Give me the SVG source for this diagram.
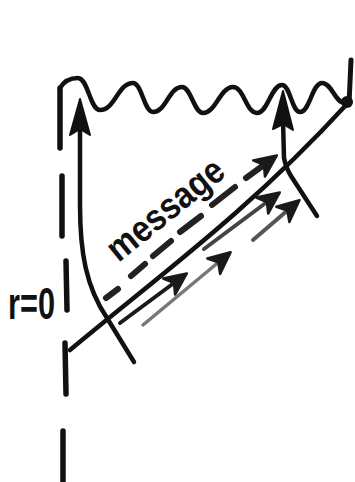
<svg xmlns="http://www.w3.org/2000/svg" width="355" height="482" viewBox="0 0 355 482">
<style>
.ln{fill:none;stroke:#111;stroke-linecap:round;stroke-linejoin:round}
.lbl{font-family:"Liberation Sans",Arial,sans-serif;font-weight:bold;fill:#111}
</style>
<defs>
<marker id="ah" markerUnits="userSpaceOnUse" viewBox="-22 -13 30 26" markerWidth="30" markerHeight="26" refX="0" refY="0" orient="auto">
<path d="M6,0 L-16,-10 L-10,0 L-16,10 Z" fill="#1a1a1a" stroke="#1a1a1a" stroke-width="2.5" stroke-linejoin="round"/>
</marker>
</defs>
<rect width="355" height="482" fill="#fff"/>
<g id="axis">
<path class="ln" style="stroke-width:5.5" d="M60,88 L60,148 M62,176 L62,236 M66,261 L67,310 M65,343 L66,394 M63,431 L63,482"/>
</g>
<g id="boundary">
<path class="ln" style="stroke-width:4.5" d="M60,88 C64,81 70,78 78,78 C88,78 90,110 100,110 C115,110 118,83 133,83 C142,83 144,112 153,112 C166,112 169,87 182,87 C191,87 194,113 203,113 C216,113 220,87 233,87 C244,87 246,113 257,113 C268,113 271,85 282,85 C290,85 292,112 300,112 C310,112 312,83 322,83 C332,83 335,103 345,103"/>
<path class="ln" style="stroke-width:5" d="M351,60 L349,104"/>
<circle cx="347" cy="102" r="6" fill="#111"/>
</g>
<g id="worldline-left">
<path class="ln" style="stroke-width:4.5" d="M80,125 L80,205 C80,252 86,287 107,318 L134,362"/>
<path d="M80,99 L90,135 L80,129 L70,135 Z" fill="#111" stroke="#111" stroke-width="2" stroke-linejoin="round"/>
</g>
<g id="worldline-right">
<path class="ln" style="stroke-width:4.5" d="M283,120 L284,158 Q286,168 291,176 L317,216"/>
<path d="M283,91 L293,130 L283,124 L273,129 Z" fill="#111" stroke="#111" stroke-width="2" stroke-linejoin="round"/>
</g>
<g id="connectors">
<path id="signal" class="ln" style="stroke-width:4.5" d="M70,350 C160,275 250,210 347,104"/>
<g id="message-dashes">
<path class="ln" style="stroke-width:6;stroke:#222" d="M106,298 L118,289 M131,276 L145,264 M153,256 L171,241 M180,232 L201,216 M212,205 L235,187"/>
<path class="ln" style="stroke-width:6;stroke:#222" d="M246,178 L272,159" marker-end="url(#ah)"/>
</g>
<path class="ln" style="stroke-width:4;stroke:#1a1a1a" d="M120,323 L182,277" marker-end="url(#ah)"/>
<path class="ln" style="stroke-width:4;stroke:#444" d="M204,249 L275,196" marker-end="url(#ah)"/>
<path class="ln" style="stroke-width:3.5;stroke:#777" d="M143,325 L226,256" marker-end="url(#ah)"/>
<path class="ln" style="stroke-width:4;stroke:#555" d="M253,240 L295,204" marker-end="url(#ah)"/>
</g>
<g id="labels">
<text class="lbl" x="173" y="219" font-size="37" text-anchor="middle" textLength="140" lengthAdjust="spacingAndGlyphs" transform="rotate(-39 173 219)">message</text>
<text class="lbl" x="8" y="319" font-size="44" textLength="47" lengthAdjust="spacingAndGlyphs">r=0</text>
</g>
</svg>
